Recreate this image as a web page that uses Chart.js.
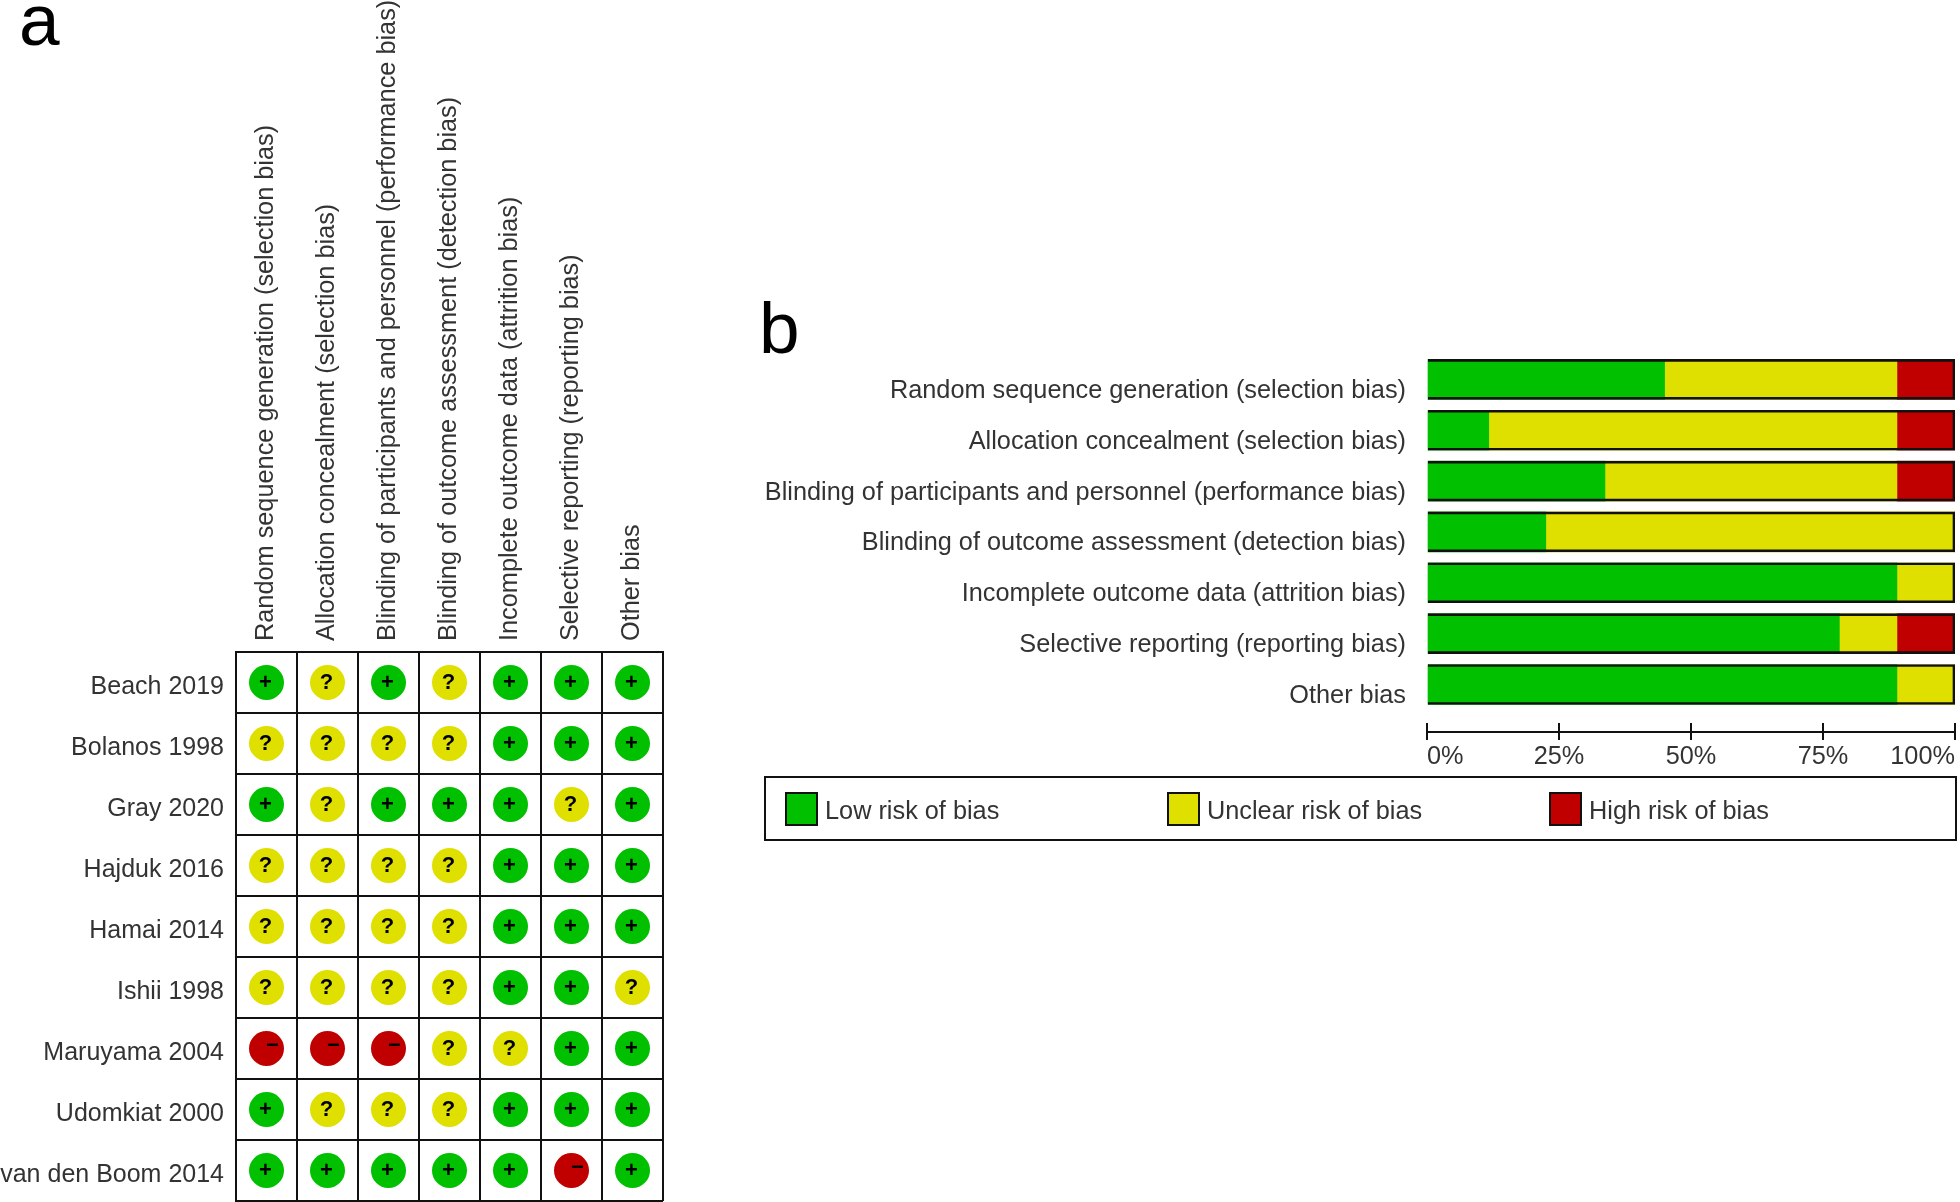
<!DOCTYPE html>
<html>
<head>
<meta charset="utf-8">
<title>Risk of bias</title>
<script src="https://cdn.jsdelivr.net/npm/chart.js@4"></script>
<style>
    body { margin: 0; background: #fff; font-family: "Liberation Sans", Arial, sans-serif; }
    canvas { position: absolute; }
    #matrix-chart { left: 0; top: 0; }
    #summary-chart { left: 740px; top: 340px; }
    .panel-letter { position: absolute; font-size: 73px; line-height: 73px; color: #000; }
    #legend {
        position: absolute; left: 764px; top: 776px; width: 1189px; height: 61px;
        border: 2px solid #111; display: flex; align-items: center;
    }
    .legend-item { width: 382px; flex: none; padding-left: 19px; box-sizing: border-box; display: flex; align-items: center; font-size: 25.3px; color: #333; }
    .legend-item span { position: relative; top: 2px; }
    .swatch { width: 33px; height: 34px; box-sizing: border-box; border: 2px solid #111; margin-right: 7px; }
</style>
</head>
<body>
<div class="panel-letter" style="left: 19px; top: -17px;">a</div>
<div class="panel-letter" style="left: 759px; top: 291px;">b</div>
<canvas id="matrix-chart" width="700" height="1202"></canvas>
<canvas id="summary-chart" width="1220" height="440"></canvas>
<div id="legend"></div>

<script>
const domains = [
    'Random sequence generation (selection bias)',
    'Allocation concealment (selection bias)',
    'Blinding of participants and personnel (performance bias)',
    'Blinding of outcome assessment (detection bias)',
    'Incomplete outcome data (attrition bias)',
    'Selective reporting (reporting bias)',
    'Other bias'
];
const studies = [
    'Beach 2019', 'Bolanos 1998', 'Gray 2020', 'Hajduk 2016', 'Hamai 2014',
    'Ishii 1998', 'Maruyama 2004', 'Udomkiat 2000', 'van den Boom 2014'
];

// one string per study, one character per domain: + low, ? unclear, - high
const beach = '+?+?+++';
const bolanos = '????+++';
const gray = '+?+++?+';
const hajduk = '????+++';
const hamai = '????+++';
const ishii = '????++?';
const maruyama = '---??++';
const udomkiat = '+???+++';
const vanDenBoom = '+++++-+';
const judgements = [beach, bolanos, gray, hajduk, hamai, ishii, maruyama, udomkiat, vanDenBoom];

const lowRisk = [45, 11.7, 33.7, 22.5, 89, 78.1, 89];
const unclearRisk = [44, 77.3, 55.3, 77.5, 11, 10.9, 11];
const highRisk = [11, 11, 11, 0, 0, 11, 0];
const percentTicks = [0, 25, 50, 75, 100];

const riskLabels = ['Low risk of bias', 'Unclear risk of bias', 'High risk of bias'];
const riskColors = ['#00c000', '#e0e000', '#c00000'];
const riskMarks = ['+', '?', '-'];
const markGlyphs = ['+', '?', '\u2212'];

const fontFamily = '"Liberation Sans", Arial, sans-serif';
const labelFont = { family: fontFamily, size: 25.3 };
const studyFont = { family: fontFamily, size: 25 };
const labelColor = '#333';

Chart.defaults.animation = false;
Chart.defaults.responsive = false;
Chart.defaults.plugins.legend.display = false;
Chart.defaults.plugins.tooltip.enabled = false;

function pointsFor(mark) {
    const points = [];
    judgements.forEach((row, r) => {
        row.split('').forEach((value, c) => {
            if (value === mark) {
                points.push({ x: domains[c], y: studies[r] });
            }
        });
    });
    return points;
}

// black + ? - on top of each circle
const markPlugin = {
    id: 'marks',
    afterDatasetsDraw(chart) {
        const ctx = chart.ctx;
        ctx.save();
        ctx.fillStyle = '#000';
        ctx.font = 'bold 22px ' + fontFamily;
        ctx.textAlign = 'center';
        ctx.textBaseline = 'middle';
        chart.data.datasets.forEach((dataset, i) => {
            chart.getDatasetMeta(i).data.forEach(point => {
                const dx = i === 2 ? 6 : -1;
                const dy = i === 2 ? -3 : 0;
                ctx.fillText(markGlyphs[i], point.x + dx, point.y + dy);
            });
        });
        ctx.restore();
    }
};

// the axis ticks of the summary cross the line, so add the part above it
const tickStubPlugin = {
    id: 'tickStubs',
    afterDraw(chart) {
        const ctx = chart.ctx;
        const xScale = chart.scales.x;
        ctx.save();
        ctx.strokeStyle = '#111';
        ctx.lineWidth = 2;
        xScale.ticks.forEach(tick => {
            const x = Math.round(xScale.getPixelForValue(tick.value));
            ctx.beginPath();
            ctx.moveTo(x, xScale.top - 9);
            ctx.lineTo(x, xScale.top);
            ctx.stroke();
        });
        ctx.restore();
    }
};

new Chart(document.getElementById('matrix-chart').getContext('2d'), {
    type: 'scatter',
    data: {
        datasets: riskMarks.map((mark, i) => ({
            label: riskLabels[i],
            data: pointsFor(mark),
            backgroundColor: riskColors[i],
            borderWidth: 0,
            pointRadius: 17.5,
            pointStyle: 'circle'
        }))
    },
    options: {
        layout: { autoPadding: false, padding: { right: 37, bottom: 1 } },
        scales: {
            x: {
                type: 'category',
                labels: domains,
                position: 'top',
                offset: true,
                grid: { offset: true, color: '#111', lineWidth: 2, drawTicks: false },
                border: { color: '#111', width: 2 },
                ticks: {
                    font: labelFont, color: labelColor, padding: 11, labelOffset: 30,
                    minRotation: 90, maxRotation: 90, autoSkip: false
                },
                afterFit(scale) {
                    scale.height = 652;
                    scale.paddingLeft = 0;
                    scale.paddingRight = 0;
                }
            },
            y: {
                type: 'category',
                labels: studies,
                offset: true,
                grid: { offset: true, color: '#111', lineWidth: 2, drawTicks: false },
                border: { color: '#111', width: 2 },
                ticks: { font: studyFont, color: labelColor, padding: 12, labelOffset: 4.5, autoSkip: false },
                afterFit(scale) {
                    scale.width = 236;
                    scale.paddingTop = 0;
                    scale.paddingBottom = 0;
                }
            }
        }
    },
    plugins: [markPlugin]
});

const summaryChart = new Chart(document.getElementById('summary-chart').getContext('2d'), {
    type: 'bar',
    data: {
        labels: domains.map((_, i) => i),
        datasets: [
            { label: riskLabels[0], data: lowRisk, backgroundColor: riskColors[0], stack: 'risk' },
            { label: riskLabels[1], data: unclearRisk, backgroundColor: riskColors[1], stack: 'risk' },
            { label: riskLabels[2], data: highRisk, backgroundColor: riskColors[2], stack: 'risk' },
            // black frame round each whole bar
            {
                label: 'frame', data: domains.map(() => 100), stack: 'frame', order: -1,
                backgroundColor: 'transparent', borderColor: '#111', borderWidth: 2
            }
        ]
    },
    options: {
        indexAxis: 'y',
        grouped: false,
        barThickness: 40,
        layout: { padding: { top: 14, right: 5 } },
        scales: {
            x: {
                min: 0,
                max: 100,
                stacked: true,
                grid: { drawOnChartArea: false, color: '#111', lineWidth: 2, tickLength: 8 },
                border: { color: '#111', width: 2 },
                afterBuildTicks(scale) {
                    scale.ticks = percentTicks.map(value => ({ value }));
                },
                ticks: {
                    font: labelFont, color: labelColor, padding: 2, align: 'inner', maxRotation: 0,
                    callback: value => value + '%'
                },
                afterFit(scale) {
                    scale.height = 48;
                    scale.paddingLeft = 0;
                    scale.paddingRight = 0;
                }
            },
            y: {
                type: 'linear',
                reverse: true,
                offset: false,
                min: -0.5,
                max: 6.935, // leaves the gap between the last bar and the axis
                grid: { display: false },
                border: { display: false },
                afterBuildTicks(scale) {
                    scale.ticks = domains.map((_, i) => ({ value: i }));
                },
                ticks: {
                    font: labelFont, color: labelColor, padding: 13, labelOffset: 11.5, autoSkip: false,
                    callback: (value, index) => domains[index]
                },
                afterFit(scale) {
                    scale.width = 687;
                    scale.paddingTop = 0;
                    scale.paddingBottom = 0;
                }
            }
        }
    },
    plugins: [tickStubPlugin]
});

const legend = document.getElementById('legend');
summaryChart.data.datasets.slice(0, 3).forEach(dataset => {
    const item = document.createElement('div');
    item.className = 'legend-item';

    const swatch = document.createElement('div');
    swatch.className = 'swatch';
    swatch.style.background = dataset.backgroundColor;
    item.appendChild(swatch);

    const text = document.createElement('span');
    text.textContent = dataset.label;
    item.appendChild(text);

    legend.appendChild(item);
});
</script>
</body>
</html>
